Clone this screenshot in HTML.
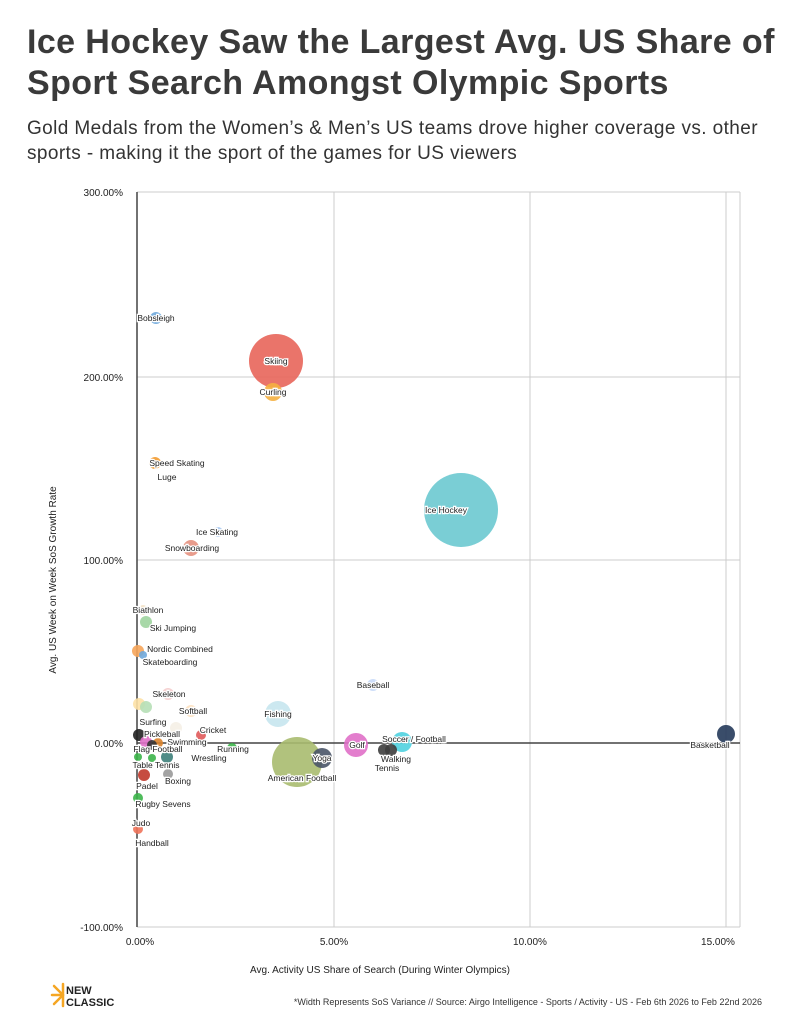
<!DOCTYPE html>
<html><head><meta charset="utf-8"><style>
body{margin:0;background:#fff;width:792px;height:1024px;overflow:hidden;font-family:"Liberation Sans",sans-serif}
h1{position:absolute;left:27px;top:22px;margin:0;font-size:34px;line-height:41px;font-weight:bold;color:#3a3a3a;width:770px;letter-spacing:0.4px}
.sub{position:absolute;left:27px;top:116px;font-size:19px;line-height:25px;color:#333;width:750px;letter-spacing:0.4px}
svg text{font-family:"Liberation Sans",sans-serif}
.l{font-size:8.5px;fill:#222;stroke:#fff;stroke-width:2.5px;paint-order:stroke;text-anchor:middle}
.t{font-size:10px;fill:#222}
</style></head><body>
<h1>Ice Hockey Saw the Largest Avg. US Share of Sport Search Amongst Olympic Sports</h1>
<div class="sub">Gold Medals from the Women’s &amp; Men’s US teams drove higher coverage vs. other sports - making it the sport of the games for US viewers</div>
<svg width="792" height="1024" style="position:absolute;left:0;top:0">
<g stroke="#ccc" stroke-width="1">
<line x1="137" y1="192" x2="740" y2="192"/><line x1="137" y1="377" x2="740" y2="377"/>
<line x1="137" y1="560" x2="740" y2="560"/><line x1="137" y1="927" x2="740" y2="927"/>
<line x1="334" y1="192" x2="334" y2="927"/><line x1="530" y1="192" x2="530" y2="927"/>
<line x1="726" y1="192" x2="726" y2="927"/><line x1="740" y1="192" x2="740" y2="927"/>
</g>
<line x1="137" y1="192" x2="137" y2="927" stroke="#444" stroke-width="1.5"/>
<line x1="137" y1="743" x2="740" y2="743" stroke="#444" stroke-width="1.5"/>
<g class="t" text-anchor="end">
<text x="123" y="196">300.00%</text><text x="123" y="381">200.00%</text><text x="123" y="564">100.00%</text><text x="123" y="747">0.00%</text><text x="123" y="931">-100.00%</text>
</g>
<g class="t" text-anchor="middle">
<text x="140" y="945">0.00%</text><text x="334" y="945">5.00%</text><text x="530" y="945">10.00%</text><text x="718" y="945">15.00%</text>
<text x="380" y="973">Avg. Activity US Share of Search (During Winter Olympics)</text>
</g>
<text class="t" transform="translate(56,580) rotate(-90)" text-anchor="middle">Avg. US Week on Week SoS Growth Rate</text>
<g fill-opacity="0.9">
<circle cx="461" cy="510" r="37" fill="#6cc9d0"/>
<circle cx="276" cy="361" r="27" fill="#e8655a"/>
<circle cx="297" cy="762" r="25" fill="#a8bb6f"/>
<circle cx="273" cy="392" r="9" fill="#f5b041"/>
<circle cx="156" cy="318" r="6" fill="#6fa8dc"/>
<circle cx="155" cy="463" r="6" fill="#f39c32"/>
<circle cx="218" cy="532" r="5" fill="#a9c8ef"/>
<circle cx="191" cy="548" r="8" fill="#e6917f"/>
<circle cx="143" cy="610" r="5" fill="#f3e2c8"/>
<circle cx="146" cy="622" r="6" fill="#9fd49f"/>
<circle cx="138" cy="651" r="6" fill="#f6a55a"/>
<circle cx="143" cy="655" r="4" fill="#6fa8dc"/>
<circle cx="373" cy="685" r="6" fill="#c9daf8"/>
<circle cx="168" cy="694" r="6" fill="#f4cccc"/>
<circle cx="191" cy="711" r="6" fill="#fde1c0"/>
<circle cx="278" cy="714" r="13" fill="#c7e6ee"/>
<circle cx="139" cy="704" r="6" fill="#fde1a6"/>
<circle cx="146" cy="707" r="6" fill="#b6dfb6"/>
<circle cx="176" cy="728" r="6" fill="#f5efe6"/>
<circle cx="201" cy="735" r="5" fill="#e05a5a"/>
<circle cx="402" cy="742" r="10" fill="#4fd1e0"/>
<circle cx="356" cy="745" r="12" fill="#e070c8"/>
<circle cx="726" cy="734" r="9" fill="#253a5a"/>
<circle cx="322" cy="758" r="10" fill="#4a5568"/>
<circle cx="384" cy="750" r="6" fill="#3d3d3d"/>
<circle cx="391" cy="750" r="6" fill="#3d3d3d"/>
<circle cx="232" cy="748" r="5" fill="#3cb54a"/>
<circle cx="139" cy="735" r="6" fill="#222"/>
<circle cx="146" cy="742" r="6" fill="#e070c8"/>
<circle cx="158" cy="743" r="5" fill="#d9822b"/>
<circle cx="152" cy="745" r="5" fill="#333"/>
<circle cx="138" cy="757" r="4" fill="#3cb54a"/>
<circle cx="152" cy="758" r="4" fill="#3cb54a"/>
<circle cx="167" cy="757" r="6" fill="#3d7f7a"/>
<circle cx="168" cy="774" r="5" fill="#999"/>
<circle cx="144" cy="775" r="6" fill="#c0392b"/>
<circle cx="138" cy="798" r="5" fill="#3cb54a"/>
<circle cx="138" cy="829" r="5" fill="#f0735a"/>
</g>
<g class="l">
<text x="156" y="321">Bobsleigh</text>
<text x="276" y="364">Skiing</text>
<text x="273" y="395">Curling</text>
<text x="177" y="466">Speed Skating</text>
<text x="167" y="480">Luge</text>
<text x="446" y="513">Ice Hockey</text>
<text x="217" y="535">Ice Skating</text>
<text x="192" y="551">Snowboarding</text>
<text x="148" y="613">Biathlon</text>
<text x="173" y="631">Ski Jumping</text>
<text x="180" y="652">Nordic Combined</text>
<text x="170" y="665">Skateboarding</text>
<text x="373" y="688">Baseball</text>
<text x="169" y="697">Skeleton</text>
<text x="193" y="714">Softball</text>
<text x="278" y="717">Fishing</text>
<text x="153" y="725">Surfing</text>
<text x="213" y="733">Cricket</text>
<text x="162" y="737">Pickleball</text>
<text x="187" y="745">Swimming</text>
<text x="414" y="742">Soccer / Football</text>
<text x="357" y="748">Golf</text>
<text x="710" y="748">Basketball</text>
<text x="233" y="752">Running</text>
<text x="158" y="752">Flag Football</text>
<text x="322" y="761">Yoga</text>
<text x="209" y="761">Wrestling</text>
<text x="396" y="762">Walking</text>
<text x="156" y="768">Table Tennis</text>
<text x="387" y="771">Tennis</text>
<text x="302" y="781">American Football</text>
<text x="178" y="784">Boxing</text>
<text x="147" y="789">Padel</text>
<text x="163" y="807">Rugby Sevens</text>
<text x="141" y="826">Judo</text>
<text x="152" y="846">Handball</text>
</g>
<g stroke="#f5a623" stroke-width="2.5" stroke-linecap="round">
<line x1="63" y1="984" x2="63" y2="1006"/><line x1="52" y1="995" x2="63" y2="995"/>
<line x1="54" y1="986" x2="63" y2="995"/><line x1="54" y1="1004" x2="63" y2="995"/>
</g>
<text x="66" y="994" font-size="11" font-weight="bold" fill="#222">NEW</text>
<text x="66" y="1006" font-size="11" font-weight="bold" fill="#222">CLASSIC</text>
<text x="762" y="1005" font-size="9" fill="#333" text-anchor="end">*Width Represents SoS Variance // Source: Airgo Intelligence - Sports / Activity - US - Feb 6th 2026 to Feb 22nd 2026</text>
</svg>
</body></html>
